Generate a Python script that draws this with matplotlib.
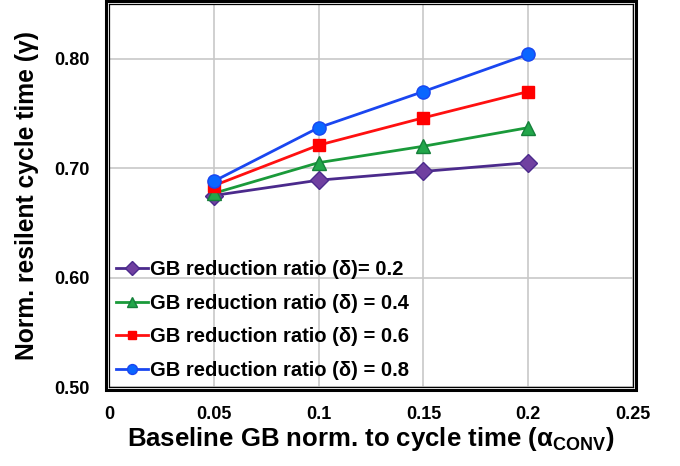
import matplotlib
matplotlib.use("Agg")
import matplotlib.pyplot as plt
from matplotlib.patches import Rectangle

plt.rcParams['font.family'] = ['Liberation Sans', 'DejaVu Sans']
plt.rcParams['font.weight'] = 'bold'

x_vals = [0.05, 0.1, 0.15, 0.2]
gamma_02 = [0.675, 0.689, 0.697, 0.705]
gamma_04 = [0.677, 0.705, 0.720, 0.737]
gamma_06 = [0.684, 0.721, 0.746, 0.770]
gamma_08 = [0.688, 0.737, 0.770, 0.804]
labels = ["GB reduction ratio (δ)= 0.2",
          "GB reduction ratio (δ) = 0.4",
          "GB reduction ratio (δ) = 0.6",
          "GB reduction ratio (δ) = 0.8"]
xticks = [0, 0.05, 0.1, 0.15, 0.2, 0.25]
xticklabels = ["0", "0.05", "0.1", "0.15", "0.2", "0.25"]
yticks = [0.5, 0.6, 0.7, 0.8]
yticklabels = ["0.50", "0.60", "0.70", "0.80"]

W, H = 680, 466
fig = plt.figure(figsize=(W / 100, H / 100), dpi=100)
L, R, T, B = 109, 633, 4, 387
ax = fig.add_axes([L / W, (H - B) / H, (R - L) / W, (B - T) / H])

styles = [
    dict(color="#4B2A8C", marker="D", mfc="#7040A0", mec="#4B2A8C", ms=9),
    dict(color="#1A9A3A", marker="^", mfc="#22A64A", mec="#15803A", ms=10),
    dict(color="#FF1010", marker="s", mfc="#FF0000", mec="#FF0000", ms=8.5),
    dict(color="#1A46F0", marker="o", mfc="#0A66FF", mec="#1A46F0", ms=9.5),
]
for series, lab, st in zip([gamma_02, gamma_04, gamma_06, gamma_08], labels, styles):
    ax.plot(x_vals, series, lw=2.0, label=lab, zorder=3, **st)

ax.set_xlim(0, 0.25)
ax.set_ylim(0.5, 0.85)
ax.set_xticks(xticks)
ax.set_xticklabels(xticklabels)
ax.set_yticks(yticks)
ax.set_yticklabels(yticklabels)
ax.tick_params(length=0, labelsize=13)
ax.tick_params(axis='x', pad=14)
ax.tick_params(axis='y', pad=14)
ax.grid(True, color="#C8C8C8", lw=1.2, zorder=0)
ax.set_axisbelow(True)
for s in ax.spines.values():
    s.set_color("black")
    s.set_linewidth(0.9)

# outer thick frame (double border look)
off = 3
fig.patches.append(Rectangle(((L - off) / W, (H - B - off) / H),
                             (R - L + 2 * off) / W, (B - T + 2 * off) / H,
                             transform=fig.transFigure, fill=False,
                             edgecolor="black", lw=2.2, zorder=5))

ax.set_xlabel("Baseline GB norm. to cycle time (α$_\\mathregular{CONV}$)",
              fontsize=18.5, fontweight='bold', labelpad=1)
ax.set_ylabel("Norm. resilent cycle time (γ)", fontsize=17.7, fontweight='bold', labelpad=11)

leg = ax.legend(loc="lower left", bbox_to_anchor=(0.0, 0.0), frameon=False,
                fontsize=14.5, handlelength=1.6, handletextpad=0.1,
                labelspacing=0.72, borderaxespad=0.15, markerscale=0.75,
                borderpad=0.2)
for t in leg.get_texts():
    t.set_fontweight('bold')

fig.savefig("out.png", dpi=100)
